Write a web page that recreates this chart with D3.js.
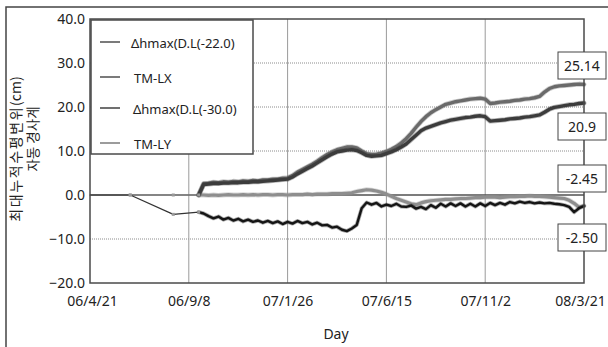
<!DOCTYPE html>
<html>
<head>
<meta charset="utf-8">
<script src="https://cdn.jsdelivr.net/npm/d3@7"></script>
<style>
  html, body { margin: 0; padding: 0; background: #fff; }
  svg { display: block; }
  text { font-family: "Noto Sans", "Noto Sans CJK KR", sans-serif; fill: #222; }
</style>
</head>
<body>
<svg id="chart" width="608" height="347"></svg>
<script>
// Axis ticks (survey dates every 140 days) and their printed labels
const tickDates = ["2006-04-21", "2006-09-08", "2007-01-26", "2007-06-15", "2007-11-02", "2008-03-21"];
const tickLabels = ["06/4/21", "06/9/8", "07/1/26", "07/6/15", "07/11/2", "08/3/21"];
const yTicks = [-20, -10, 0, 10, 20, 30, 40];

// Early manual readings before the automatic logger was installed
const earlyDates = ["2006-04-21", "2006-06-17", "2006-08-17"];
const earlyD30 = [0, 0, -4.4];
const earlyLY = [null, 0, 0];

// Automatic inclinometer readings, weekly from 2006-09-22 to 2008-03-21
const loggerStart = "2006-09-22";
const loggerEnd = "2008-03-21";

const seriesNames = ["Δhmax(D.L(-22.0)", "TM-LX", "Δhmax(D.L(-30.0)", "TM-LY"];

const tmLX = [0, 2.6, 2.7, 2.9, 2.8, 3.0, 2.9, 3.1, 3.0, 3.2,
  3.1, 3.3, 3.2, 3.4, 3.4, 3.6, 3.6, 3.8, 3.9, 4.4,
  5.2, 5.8, 6.4, 7.0, 7.7, 8.5, 9.2, 9.8, 10.3, 10.6,
  10.9, 10.9, 10.7, 10.0, 9.4, 9.2, 9.3, 9.5, 9.9, 10.4,
  11.0, 11.8, 12.8, 14.0, 15.4, 16.7, 17.8, 18.7, 19.4, 20.0,
  20.6, 20.9, 21.2, 21.4, 21.6, 21.8, 21.9, 22.0, 21.8, 20.8,
  20.9, 21.1, 21.2, 21.3, 21.5, 21.6, 21.8, 21.9, 22.1, 22.4,
  23.4, 24.2, 24.6, 24.8, 24.9, 25.0, 25.1, 25.2, 25.14];

const dh22 = [0, 2.4, 2.5, 2.6, 2.6, 2.7, 2.7, 2.8, 2.8, 2.9,
  2.9, 3.0, 3.0, 3.1, 3.2, 3.3, 3.4, 3.5, 3.6, 4.1,
  4.8, 5.4, 6.0, 6.6, 7.3, 8.0, 8.7, 9.3, 9.8, 10.0,
  10.2, 10.3, 10.1, 9.6, 9.0, 8.8, 8.9, 9.0, 9.4, 9.8,
  10.3, 10.9, 11.6, 12.6, 13.6, 14.6, 15.2, 15.6, 16.0, 16.4,
  16.7, 17.0, 17.2, 17.4, 17.6, 17.7, 17.9, 18.0, 17.8, 16.8,
  16.9, 17.0, 17.1, 17.3, 17.4, 17.5, 17.7, 17.8, 18.0, 18.2,
  18.8, 19.5, 19.9, 20.1, 20.3, 20.5, 20.6, 20.8, 20.9];

const tmLY = [0.0, 0.0, -0.1, 0.0, -0.1, 0.0, 0.1, 0.0, 0.0, 0.1,
  0.0, 0.1, 0.0, 0.1, 0.1, 0.0, 0.1, 0.1, 0.0, 0.1,
  0.1, 0.1, 0.2, 0.1, 0.2, 0.2, 0.2, 0.3, 0.3, 0.3,
  0.4, 0.5, 0.8, 1.0, 1.2, 1.1, 0.9, 0.6, 0.2, -0.3,
  -0.8, -1.2, -1.6, -2.0, -2.2, -1.8, -1.5, -1.3, -1.2, -1.1,
  -1.0, -1.0, -0.9, -0.8, -0.8, -0.7, -0.6, -0.6, -0.5, -0.5,
  -0.5, -0.6, -0.5, -0.4, -0.4, -0.3, -0.3, -0.2, -0.3, -0.3,
  -0.4, -0.5, -0.6, -0.7, -0.8, -1.2, -1.9, -2.8, -2.45];

const dh30 = [-3.9, -4.2, -4.8, -5.3, -4.9, -5.6, -5.2, -5.8, -5.4, -6.0,
  -5.6, -6.1, -5.8, -6.3, -5.9, -6.4, -6.0, -6.6, -6.1, -6.5,
  -5.9, -6.4, -6.1, -6.7, -6.3, -6.9, -6.8, -7.4, -7.2, -7.9,
  -8.2, -7.6, -6.8, -3.0, -1.7, -2.2, -1.8, -2.6, -2.2, -2.5,
  -2.0, -2.6, -2.7, -2.4, -3.1, -2.7, -3.2, -2.3, -2.9, -2.0,
  -2.6, -1.9, -2.5, -1.9, -2.6, -2.0, -2.6, -1.9, -2.5, -1.8,
  -2.3, -1.8, -2.2, -1.6, -1.9, -1.5, -1.8, -1.6, -1.9, -1.7,
  -1.9, -1.8, -2.0, -2.1, -2.3, -2.7, -3.9, -3.0, -2.50];

// Final values printed beside the plot
const endLabels = ["25.14", "20.9", "-2.45", "-2.50"];

const parse = d3.utcParse("%Y-%m-%d");
const loggerDates = d3.utcDay.range(parse(loggerStart), d3.utcDay.offset(parse(loggerEnd), 1), 7);

const svg = d3.select("#chart");
const W = 608, H = 347;
const plot = { left: 90, right: 584, top: 19, bottom: 283 };

const x = d3.scaleUtc()
  .domain([parse(tickDates[0]), parse(tickDates[tickDates.length - 1])])
  .range([plot.left, plot.right]);
const y = d3.scaleLinear().domain([-20, 40]).range([plot.bottom, plot.top]);

// Outer frame
svg.append("rect")
  .attr("x", 6).attr("y", 7).attr("width", W + 10).attr("height", H + 10)
  .attr("fill", "none").attr("stroke", "#444").attr("stroke-width", 1.5);

// Grid
const grid = svg.append("g");
grid.selectAll("line.h").data(yTicks.filter(v => v !== 0 && v !== 40 && v !== -20))
  .join("line")
  .attr("x1", plot.left).attr("x2", plot.right)
  .attr("y1", d => y(d)).attr("y2", d => y(d))
  .attr("stroke", "#8c8c8c").attr("stroke-width", 1).attr("stroke-dasharray", "1,1");
grid.selectAll("line.v").data(tickDates.slice(1, -1))
  .join("line")
  .attr("x1", d => x(parse(d))).attr("x2", d => x(parse(d)))
  .attr("y1", plot.top).attr("y2", plot.bottom)
  .attr("stroke", "#9a9a9a").attr("stroke-width", 1);

// Zero reference line
svg.append("line")
  .attr("x1", plot.left).attr("x2", plot.right)
  .attr("y1", y(0)).attr("y2", y(0))
  .attr("stroke", "#505050").attr("stroke-width", 1.5);

// Axes
const yAxis = svg.append("g")
  .attr("transform", `translate(${plot.left},0)`)
  .call(d3.axisLeft(y).tickValues(yTicks).tickFormat(d3.format(".1f")).tickSize(0).tickPadding(5));
const xAxis = svg.append("g")
  .attr("transform", `translate(0,${plot.bottom})`)
  .call(d3.axisBottom(x).tickValues(tickDates.map(parse))
    .tickFormat((d, i) => tickLabels[i]).tickSize(0).tickPadding(13));
[yAxis, xAxis].forEach(a => {
  a.select(".domain").remove();
  a.selectAll("text").attr("font-size", 14).attr("fill", "#222")
    .style("font-family", "'Noto Sans', 'Noto Sans CJK KR', sans-serif");
});
// keep the outer date labels inside the frame
const nLabels = tickLabels.length;
xAxis.selectAll(".tick text").attr("dx", (d, i) => i === 0 ? 2 : (i === nLabels - 1 ? -4 : 0));

// Series lines
const line = d3.line()
  .defined(d => d.v !== null)
  .x(d => x(d.date)).y(d => y(d.v));

function loggerPoints(values) {
  return loggerDates.map((date, i) => ({ date, v: values[i] }));
}
function earlyPoints(values, firstLogger) {
  const pts = earlyDates.map((s, i) => ({ date: parse(s), v: values[i] })).filter(d => d.v !== null);
  pts.push({ date: loggerDates[0], v: firstLogger });
  return pts;
}

const series = [
  { name: seriesNames[3], values: tmLY, color: "#8e8e8e", width: 3.2 },
  { name: seriesNames[1], values: tmLX, color: "#6a6a6a", width: 3.4 },
  { name: seriesNames[0], values: dh22, color: "#3c3c3c", width: 3.4 },
  { name: seriesNames[2], values: dh30, color: "#151515", width: 2.4 }
];

const lines = svg.append("g").attr("fill", "none")
  .attr("stroke-linejoin", "round").attr("stroke-linecap", "round");

// Early manual readings: thin connecting lines with small markers
lines.append("path").datum(earlyPoints(earlyLY, tmLY[0]))
  .attr("d", line).attr("stroke", "#8e8e8e").attr("stroke-width", 1.2);
lines.append("path").datum(earlyPoints(earlyD30, dh30[0]))
  .attr("d", line).attr("stroke", "#333").attr("stroke-width", 1.2);
const markerPts = earlyPoints(earlyLY, tmLY[0]).concat(earlyPoints(earlyD30, dh30[0]).slice(1));
svg.append("g").selectAll("rect").data(markerPts).join("rect")
  .attr("x", d => x(d.date) - 1.5).attr("y", d => y(d.v) - 1.5)
  .attr("width", 3).attr("height", 3).attr("fill", "#999");

series.forEach(s => {
  const pts = loggerPoints(s.values);
  lines.append("path").datum(pts).attr("d", line)
    .attr("stroke", s.color).attr("stroke-opacity", 0.35).attr("stroke-width", s.width + 1.6);
  lines.append("path").datum(pts).attr("d", line)
    .attr("stroke", s.color).attr("stroke-width", s.width);
});

// Plot border
svg.append("rect")
  .attr("x", plot.left).attr("y", plot.top)
  .attr("width", plot.right - plot.left).attr("height", plot.bottom - plot.top)
  .attr("fill", "none").attr("stroke", "#4a4a4a").attr("stroke-width", 1.5);

// Legend
const legend = svg.append("g");
legend.append("rect")
  .attr("x", plot.left + 1).attr("y", plot.top + 1).attr("width", 162).attr("height", 134)
  .attr("fill", "#fff").attr("stroke", "#4a4a4a").attr("stroke-width", 1.5);
const legendRows = [
  { name: seriesNames[0], color: "#333", tx: 131 },
  { name: seriesNames[1], color: "#333", tx: 134 },
  { name: seriesNames[2], color: "#222", tx: 133 },
  { name: seriesNames[3], color: "#666", tx: 134 }
];
const legendY = [43, 78, 109, 144];
legendRows.forEach((r, i) => {
  legend.append("line")
    .attr("x1", 100).attr("x2", 120).attr("y1", legendY[i] - 1).attr("y2", legendY[i] - 1)
    .attr("stroke", r.color).attr("stroke-width", 1.3);
  legend.append("text")
    .attr("x", r.tx).attr("y", legendY[i] + 4.5)
    .attr("font-size", 13).text(r.name);
});

// End-value boxes on the right
const boxTop = [52, 113, 165, 224];
const boxes = svg.append("g");
endLabels.forEach((t, i) => {
  boxes.append("rect")
    .attr("x", 558).attr("y", boxTop[i]).attr("width", 48).attr("height", 27)
    .attr("fill", "#fff").attr("stroke", "#444").attr("stroke-width", 1);
  boxes.append("text")
    .attr("x", 582).attr("y", boxTop[i] + 18.5)
    .attr("text-anchor", "middle").attr("font-size", 14).text(t);
});

// Axis titles
const yTitle = svg.append("text")
  .attr("transform", "translate(21,149) rotate(-90)")
  .attr("text-anchor", "middle").attr("font-size", 14)
  .style("font-family", "'Noto Sans CJK KR', sans-serif");
yTitle.append("tspan").attr("letter-spacing", 1.6).text("최대누적수평변위");
yTitle.append("tspan").text("(cm)");
svg.append("text")
  .attr("transform", "translate(38,139) rotate(-90)")
  .attr("text-anchor", "middle").attr("font-size", 13.5)
  .style("font-family", "'Noto Sans CJK KR', sans-serif")
  .text("자동 경사계");
svg.append("text")
  .attr("x", 336).attr("y", 339)
  .attr("text-anchor", "middle").attr("font-size", 14)
  .text("Day");
</script>
</body>
</html>
